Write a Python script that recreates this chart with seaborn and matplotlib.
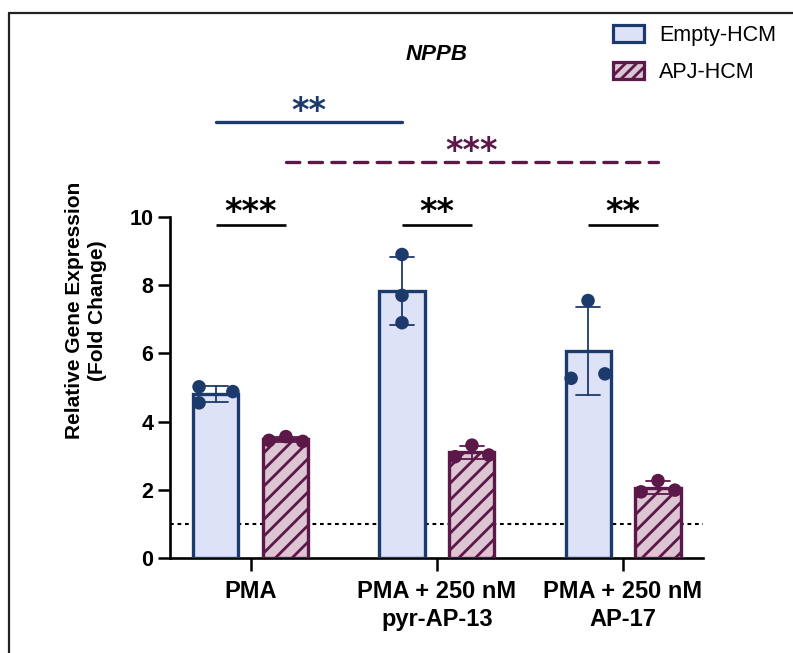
import numpy as np
import pandas as pd
import matplotlib
matplotlib.use("Agg")
import matplotlib.pyplot as plt
from matplotlib.patches import Patch
from matplotlib.lines import Line2D
import seaborn as sns

# ---- data -------------------------------------------------------------
conditions = ["PMA", "PMA + 250 nM\npyr-AP-13", "PMA + 250 nM\nAP-17"]
groups = ["Empty-HCM", "APJ-HCM"]

empty_pma = [5.02, 4.88, 4.55]
empty_pyr = [8.90, 7.70, 6.90]
empty_ap17 = [7.55, 5.27, 5.40]
apj_pma = [3.45, 3.56, 3.42]
apj_pyr = [2.97, 3.31, 3.02]
apj_ap17 = [1.94, 2.27, 1.99]

baseline = 1.0
yticks = [0, 2, 4, 6, 8, 10]

# significance marks: (label, (cond, group) start, (cond, group) end)
within_stars = ["***", "**", "**"]
navy_comp = ("**", (0, 0), (1, 0))
maroon_comp = ("***", (0, 1), (2, 1))

# ---- style ------------------------------------------------------------
navy = "#1d3a6c"
maroon = "#5b1848"
fill_empty = "#dde2f6"
fill_apj = "#dcc6d3"

sns.set_theme(style="ticks")
plt.rcParams["font.family"] = ["Liberation Sans", "DejaVu Sans"]
plt.rcParams["hatch.linewidth"] = 2.0
plt.rcParams["hatch.color"] = maroon
for key in ["text.color", "axes.labelcolor", "xtick.color", "ytick.color",
            "axes.edgecolor"]:
    plt.rcParams[key] = "black"

values = {
    ("PMA", "Empty-HCM"): empty_pma,
    (conditions[1], "Empty-HCM"): empty_pyr,
    (conditions[2], "Empty-HCM"): empty_ap17,
    ("PMA", "APJ-HCM"): apj_pma,
    (conditions[1], "APJ-HCM"): apj_pyr,
    (conditions[2], "APJ-HCM"): apj_ap17,
}
rows = []
for (c, g), vals in values.items():
    for i, v in enumerate(vals):
        rows.append({"condition": c, "group": g, "rep": i, "value": v})
df = pd.DataFrame(rows)

# horizontal spread of the replicate dots inside a bar (fraction of half width)
spread = {
    ("PMA", "Empty-HCM"): [-0.75, 0.75, -0.75],
    (conditions[1], "Empty-HCM"): [0, 0, 0],
    (conditions[2], "Empty-HCM"): [0, -0.75, 0.75],
    ("PMA", "APJ-HCM"): [-0.75, 0, 0.75],
    (conditions[1], "APJ-HCM"): [-0.75, 0, 0.75],
    (conditions[2], "APJ-HCM"): [-0.75, 0, 0.75],
}

W, H = 793, 653
fig = plt.figure(figsize=(W / 100, H / 100), dpi=100)
ax = fig.add_axes([170 / W, 1 - 558 / H, 533 / W, 341 / H])

sns.barplot(
    data=df, x="condition", y="value", hue="group",
    order=conditions, hue_order=groups,
    palette={"Empty-HCM": fill_empty, "APJ-HCM": fill_apj},
    errorbar="sd", capsize=0.25, width=0.752, gap=0.356,
    err_kws={"linewidth": 1.3, "color": navy, "zorder": 4},
    legend=False, ax=ax, zorder=3, saturation=1,
)

# bar outlines, hatching and bar centres
centres = {}
for p in ax.patches:
    cx = p.get_x() + p.get_width() / 2
    ci = int(round(cx))
    is_empty = cx < ci
    g = groups[0] if is_empty else groups[1]
    centres[(conditions[ci], g)] = (cx, p.get_width() / 2)
    p.set_linewidth(2.4)
    if is_empty:
        p.set_edgecolor(navy)
    else:
        p.set_edgecolor(maroon)
        p.set_hatch("//")

for ln in ax.lines:
    xd = np.asarray(ln.get_xdata(), dtype=float)
    if xd.size == 0 or np.all(np.isnan(xd)):
        continue
    xm = np.nanmean(xd)
    ln.set_color(navy if xm < round(xm) else maroon)

# replicate dots
dx, dy, dg = [], [], []
for (c, g), vals in values.items():
    cx, hw = centres[(c, g)]
    for v, s in zip(vals, spread[(c, g)]):
        dx.append(cx + s * hw)
        dy.append(v)
        dg.append(g)
sns.scatterplot(x=dx, y=dy, hue=dg, hue_order=groups,
                palette={"Empty-HCM": navy, "APJ-HCM": maroon},
                s=95, linewidth=0, legend=False, ax=ax, zorder=6, clip_on=False)

ax.axhline(baseline, color="black", lw=1.5, ls=(0, (1.8, 1.8)), zorder=1)

ax.set_xlim(-0.435, 2.43)
ax.set_ylim(0, 10)
ax.set_yticks(yticks)
ax.set_xlabel("")
ax.set_ylabel("Relative Gene Expression\n(Fold Change)", fontsize=15,
              fontweight="bold", linespacing=1.3)
ax.yaxis.label.set_va("center")
ax.yaxis.set_label_coords(-0.158, 0.725)

ax.set_xticks(range(len(conditions)))
ax.set_xticklabels(conditions, fontsize=17, fontweight="bold", linespacing=1.25)
for lab in ax.get_yticklabels():
    lab.set_fontsize(15.5)
    lab.set_fontweight("bold")
ax.tick_params(axis="both", width=1.8, length=9, color="black")
ax.tick_params(axis="x", pad=7)
ax.tick_params(axis="y", pad=3)
for s in ["top", "right"]:
    ax.spines[s].set_visible(False)
for s in ["left", "bottom"]:
    ax.spines[s].set_linewidth(1.9)
    ax.spines[s].set_color("black")


def stars(x, y, text, color):
    ax.annotate(text, xy=(x, y), xytext=(0, -13), textcoords="offset points",
                ha="center", va="baseline", fontsize=24, fontweight="bold",
                color=color, family="DejaVu Sans", annotation_clip=False)


# within-condition comparisons
for ci, txt in enumerate(within_stars):
    x0 = centres[(conditions[ci], groups[0])][0]
    x1 = centres[(conditions[ci], groups[1])][0]
    ax.plot([x0, x1], [9.77, 9.77], color="black", lw=1.9, clip_on=False,
            solid_capstyle="butt")
    stars((x0 + x1) / 2, 10.38, txt, "black")

# across-condition comparisons
t, a, b = navy_comp
x0 = centres[(conditions[a[0]], groups[a[1]])][0]
x1 = centres[(conditions[b[0]], groups[b[1]])][0]
ax.plot([x0, x1], [12.79, 12.79], color=navy, lw=2.4, clip_on=False,
        solid_capstyle="round")
stars((x0 + x1) / 2, 13.34, t, navy)

t, a, b = maroon_comp
x0 = centres[(conditions[a[0]], groups[a[1]])][0]
x1 = centres[(conditions[b[0]], groups[b[1]])][0]
ax.plot([x0, x1], [11.62, 11.62], color=maroon, lw=2.4, clip_on=False,
        ls=(0, (4.0, 2.8)), dash_capstyle="round")
stars((x0 + x1) / 2, 12.17, t, maroon)

ax.text(0.5, 1.478, "NPPB", transform=ax.transAxes, ha="center", va="center",
        fontsize=16, fontweight="bold", fontstyle="italic")

handles = [
    Patch(facecolor=fill_empty, edgecolor=navy, linewidth=2.3),
    Patch(facecolor=fill_apj, edgecolor=maroon, linewidth=2.3, hatch="///"),
]
fig.legend(handles, groups, loc="upper left",
           bbox_to_anchor=(613 / W, 1 - 25 / H), frameon=False,
           fontsize=15.5, handlelength=1.45, handleheight=0.85,
           handletextpad=0.7, labelspacing=0.75, borderpad=0, borderaxespad=0)

# panel frame
fig.add_artist(Line2D([8.5 / W, 8.5 / W], [0, 1 - 12.5 / H], color="#222222",
                      lw=1.6, transform=fig.transFigure))
fig.add_artist(Line2D([8.5 / W, 1], [1 - 12.5 / H, 1 - 12.5 / H], color="#222222",
                      lw=1.6, transform=fig.transFigure))

fig.savefig("out.png", dpi=100)
